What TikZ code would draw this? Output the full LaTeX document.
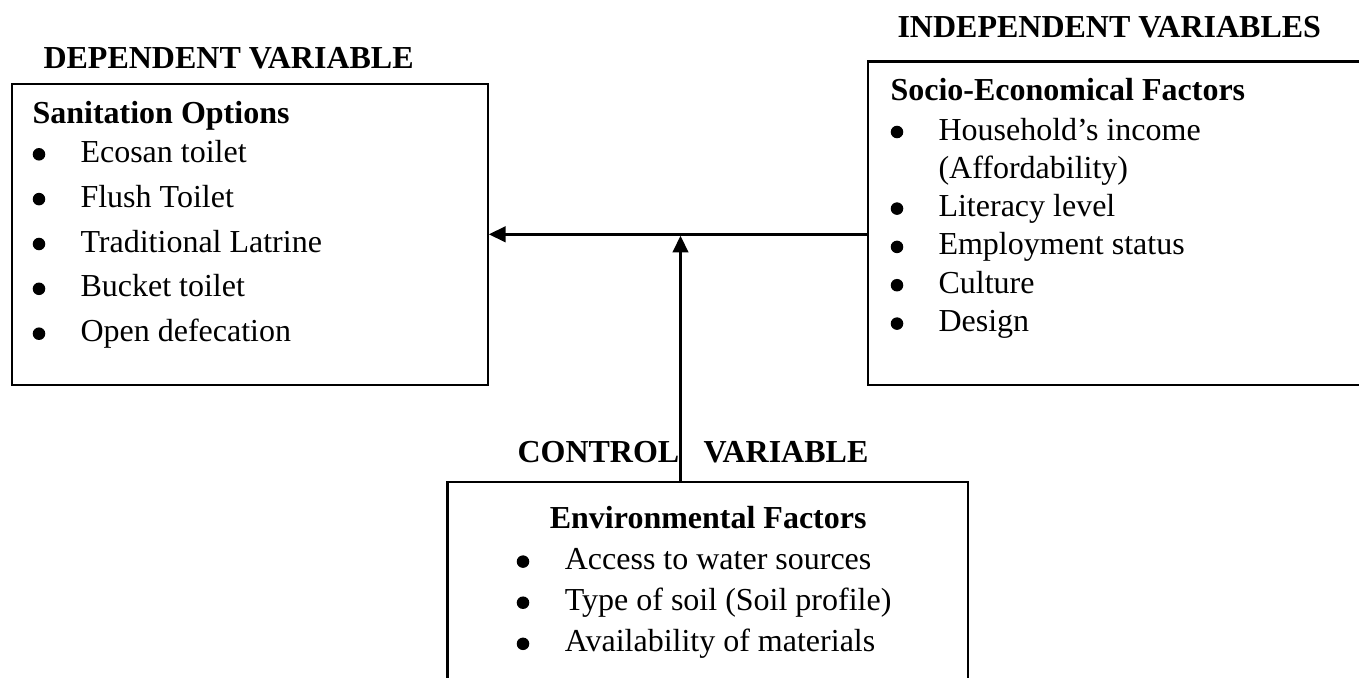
\documentclass[tikz,border=0pt]{standalone}
\usepackage{fontspec}
\setmainfont{Liberation Serif}
\usetikzlibrary{fit,arrows.meta}
\begin{document}
\begin{tikzpicture}[x=0.375pt,y=-0.375pt,
  every node/.style={font=\fontsize{12}{14}\selectfont},
  boxframe/.style={draw, line width=0.8pt, inner sep=0pt, rectangle},
  heading/.style={anchor=base west, inner sep=0pt, font=\fontsize{12}{14}\selectfont\bfseries},
  item/.style={anchor=base west, inner sep=0pt},
  bulletdot/.style={circle, fill=black, inner sep=0pt, minimum size=4.7pt},
  conn/.style={line width=1pt, -{Triangle[length=6.3pt,width=5.8pt]}}]
\useasboundingbox (0,0) rectangle (1359,677);

% boxes
\node[boxframe, fit={(11.7,84) (487.7,385)}] (dep) {};
\node[boxframe, fit={(868.3,61.5) (1368,385)}] (ind) {};
\node[boxframe, fit={(447.5,482) (968,692)}] (ctl) {};

% headings
\node[heading] (hdep) at (43,68) {DEPENDENT VARIABLE};
\node[heading] (hind) at (897,37) {INDEPENDENT VARIABLES};
\node[heading] (hctl1) at (517,462) {CONTROL};
\node[heading] (hctl2) at (703,462) {VARIABLE};

% dependent box
\node[heading] (t1) at (32,123) {Sanitation Options};
\foreach \y/\t [count=\i] in {162.3/Ecosan toilet, 207.1/Flush Toilet, 252/Traditional Latrine, 296.8/Bucket toilet, 341.7/Open defecation}{
  \node[bulletdot] (db\i) at (39,\y-8) {};
  \node[item] (dt\i) at (80,\y) {\t};
}

% independent box
\node[heading] (t2) at (890,100.7) {Socio-Economical Factors};
\node[bulletdot] (ib1) at (897,132) {};
\node[item] (it1) at (938,140) {Household’s income};
\node[item] (it1b) at (938,178.3) {(Affordability)};
\foreach \y/\t [count=\i from 2] in {216.6/Literacy level, 254.9/Employment status, 293.2/Culture, 331.6/Design}{
  \node[bulletdot] (ib\i) at (897,\y-8) {};
  \node[item] (it\i) at (938,\y) {\t};
}

% control box
\node[heading] (t3) at (549.3,528) {Environmental Factors};
\foreach \y/\t [count=\i] in {569.6/Access to water sources, 610.7/Type of soil (Soil profile), 651.8/Availability of materials}{
  \node[bulletdot] (cb\i) at (523,\y-8) {};
  \node[item] (ct\i) at (564.3,\y) {\t};
}

% connectors
\coordinate (j) at (680.5,234.3);
\draw[conn] (ind.west |- j) -- (dep.east |- j);
\draw[conn] (ctl.north -| j) -- ([yshift=-0.5pt]j);
\end{tikzpicture}
\end{document}
